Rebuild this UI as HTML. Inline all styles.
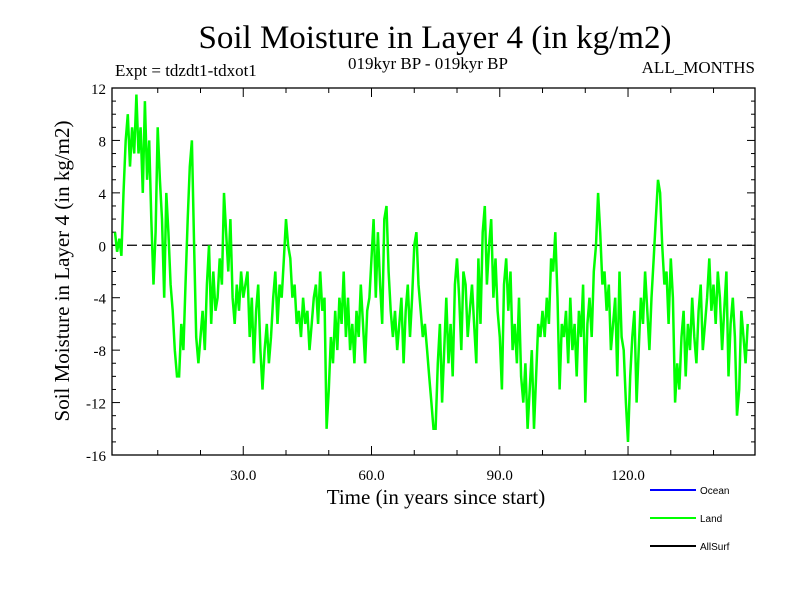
<!DOCTYPE html>
<html><head><meta charset="utf-8"><style>
body{margin:0;background:#fff}
svg text{font-family:"Liberation Serif",serif;fill:#000}
svg text.sans{font-family:"Liberation Sans",sans-serif}
</style></head><body>
<svg id="c" width="800" height="600" viewBox="0 0 800 600">
<text x="435" y="48" font-size="33" text-anchor="middle">Soil Moisture in Layer 4 (in kg/m2)</text>
<text x="115" y="76" font-size="17">Expt = tdzdt1-tdxot1</text>
<text x="428" y="69" font-size="17" text-anchor="middle">019kyr BP - 019kyr BP</text>
<text x="755" y="73" font-size="17" text-anchor="end">ALL_MONTHS</text>
<text transform="translate(69,271) rotate(-90)" font-size="21" text-anchor="middle">Soil Moisture in Layer 4 (in kg/m2)</text>
<text x="436" y="504" font-size="21" text-anchor="middle">Time (in years since start)</text>
<g id="ax"></g>
<g id="plot"></g>
<g>
<line x1="650" y1="490" x2="696" y2="490" stroke="#0000ff" stroke-width="2"/>
<text class="sans" x="700" y="494" font-size="10">Ocean</text>
<line x1="650" y1="518" x2="696" y2="518" stroke="#00ff00" stroke-width="2"/>
<text class="sans" x="700" y="522" font-size="10">Land</text>
<line x1="650" y1="546" x2="696" y2="546" stroke="#000" stroke-width="2"/>
<text class="sans" x="700" y="550" font-size="10">AllSurf</text>
</g>
</svg>
<script>
const yTicks=[12,8,4,0,-4,-8,-12,-16];
const xTicks=[30,60,90,120];
const xTickLabels=["30.0","60.0","90.0","120.0"];
const landStep=0.5;
const landValues=[
1,-0.5,0.5,-0.8,4,8,10,6,9,7,
11.5,7,9,4,11,5,8,2,-3,1,
9,5,2,-4,4,1,-3,-5,-8,-10,
-10,-6,-8,-3,2,6,8,0,-7,-9,
-7,-5,-8,-3,0,-6,-2,-5,-4,-1,
-3,4,1,-2,2,-4,-6,-3,-5,-2,
-4,-3,-2,-7,-4,-9,-5,-3,-8,-11,
-8,-6,-9,-7,-4,-2,-6,-3,-4,-1,
2,0,-1,-4,-3,-6,-5,-7,-4,-6,
-5,-8,-6,-4,-3,-6,-2,-5,-4,-14,
-11,-7,-9,-5,-8,-4,-6,-2,-7,-4,
-8,-6,-9,-5,-7,-3,-6,-9,-5,-4,
-1,2,-4,1,-3,-6,2,3,-2,-5,
-7,-5,-8,-6,-4,-9,-5,-3,-7,-4,
0,1,-3,-5,-7,-6,-8,-10,-12,-14,
-14,-9,-6,-12,-8,-4,-9,-6,-10,-3,
-1,-4,-8,-2,-3,-7,-5,-3,-6,-9,
-1,-6,1,3,-3,0,2,-4,-1,-5,
-7,-11,-3,-1,-5,-2,-8,-6,-9,-4,
-10,-12,-9,-14,-11,-8,-14,-10,-6,-7,
-5,-7,-4,-6,-1,-2,1,-4,-11,-6,
-7,-5,-9,-4,-8,-6,-10,-5,-7,-3,
-12,-6,-4,-7,-2,0,4,1,-3,-2,
-5,-3,-8,-6,-4,-10,-2,-7,-8,-12,
-15,-10,-7,-5,-12,-8,-4,-6,-2,-5,
-8,-4,-1,2,5,4,0,-3,-2,-6,
-1,-4,-12,-9,-11,-7,-5,-10,-6,-8,
-4,-7,-9,-5,-3,-8,-6,-4,-1,-5,
-3,-6,-2,-4,-8,-5,-2,-10,-6,-4,
-7,-13,-11,-5,-7,-9,-6
];
const L=112,R=755,T=88,B=455,X0=-0.7,X1=149.7,Y0=-16,Y1=12;
const sx=v=>L+(v-X0)/(X1-X0)*(R-L);
const sy=v=>B-(v-Y0)/(Y1-Y0)*(B-T);
const NS="http://www.w3.org/2000/svg";
const ax=document.getElementById('ax'),plot=document.getElementById('plot');
function mk(p,tag,at){const e=document.createElementNS(NS,tag);for(const k in at)e.setAttribute(k,at[k]);p.appendChild(e);return e;}
const frame=mk(ax,'rect',{x:L,y:T,width:R-L,height:B-T,fill:'none',stroke:'#000','stroke-width':1.3});


for(let v=-16;v<=12;v+=1){const len=(v%4===0)?8:4;const y=sy(v);
const t1=mk(ax,'line',{x1:L,y1:y,x2:L+len,y2:y,stroke:'#000'});


const t2=mk(ax,'line',{x1:R,y1:y,x2:R-len,y2:y,stroke:'#000'});

}
yTicks.forEach(v=>{const t=mk(ax,'text',{x:L-6,y:sy(v)+6,'font-size':15,'text-anchor':'end'});t.textContent=v;

});
for(let v=10;v<150;v+=10){const len=(v%30===0)?9:5;const x=sx(v);
const t1=mk(ax,'line',{x1:x,y1:B,x2:x,y2:B-len,stroke:'#000'});


const t2=mk(ax,'line',{x1:x,y1:T,x2:x,y2:T+len,stroke:'#000'});

}
xTicks.forEach((v,i)=>{const t=mk(ax,'text',{x:sx(v),y:B+25,'font-size':15,'text-anchor':'middle'});t.textContent=xTickLabels[i];

});
const zl=mk(plot,'line',{x1:L,y1:sy(0),x2:R,y2:sy(0),stroke:'#000','stroke-width':1.2,'stroke-dasharray':'10,5'});


const pts=landValues.map((v,i)=>sx(i*landStep).toFixed(1)+','+sy(v).toFixed(1)).join(' ');
const pl=mk(plot,'polyline',{points:pts,fill:'none',stroke:'#00ff00','stroke-width':2.5,'stroke-linejoin':'miter'});


</script>
</body></html>
